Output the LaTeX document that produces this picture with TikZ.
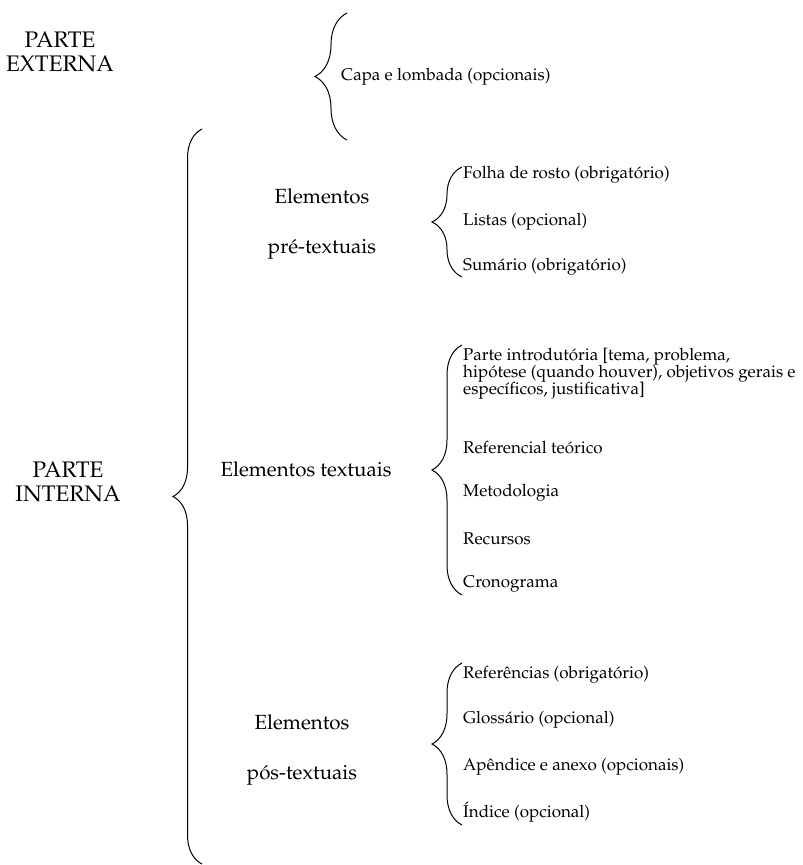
\documentclass[tikz,border=0pt]{standalone}
\usepackage[T1]{fontenc}
\usepackage{mathpazo}
\usepackage{tikz}
\usetikzlibrary{decorations.pathreplacing}

\begin{document}
\begin{tikzpicture}[x=1pt, y=-1pt,
	chave/.style={decorate, decoration={brace, amplitude=#1}, line width=1pt},
	chave/.default=30,
	item/.style={anchor=west, inner sep=0pt, align=left, font={\fontsize{17}{17}\selectfont\lineskiplimit -20pt\relax}},
	parte/.style={inner sep=0pt, align=center, font=\fontsize{22.5}{23.5}\selectfont},
	grupo/.style={inner sep=0pt, align=center, font=\fontsize{20.5}{50}\selectfont}]
	\useasboundingbox (0, 0) rectangle (803, 865);

	\node[parte] (externa) at (60, 52) {PARTE\\EXTERNA};
	\node[parte] (interna) at (68, 482) {PARTE\\INTERNA};

	\draw[chave=32] (347, 140) -- (347, 13);
	\node[item] (capa) at (341, 77) {Capa e lombada (opcionais)};

	\draw[chave=29] (202, 864) -- (202, 129);

	\node[grupo] (pre) at (322, 224) {Elementos\\pré-textuais};
	\node[grupo] (textuais) at (306, 469) {Elementos textuais};
	\node[grupo] (pos) at (302, 750) {Elementos\\pós-textuais};

	\draw[chave] (462, 277) -- (462, 167);
	\node[item] (folha) at (463, 175) {Folha de rosto (obrigatório)};
	\node[item] (listas) at (463, 222) {Listas (opcional)};
	\node[item] (sumario) at (463, 267) {Sumário (obrigatório)};

	\draw[chave] (462, 595) -- (462, 345);
	\node[item] (intro) at (463, 374) {Parte introdutória [tema, problema,\\hipótese (quando houver), objetivos gerais e\\específicos, justificativa]};
	\node[item] (referencial) at (463, 448) {Referencial teórico};
	\node[item] (metodologia) at (463, 493) {Metodologia};
	\node[item] (recursos) at (463, 539) {Recursos};
	\node[item] (cronograma) at (463, 584) {Cronograma};

	\draw[chave] (462, 825) -- (462, 663);
	\node[item] (referencias) at (463, 675) {Referências (obrigatório)};
	\node[item] (glossario) at (463, 720) {Glossário (opcional)};
	\node[item] (apendice) at (463, 767) {Apêndice e anexo (opcionais)};
	\node[item] (indice) at (463, 812) {Índice (opcional)};
\end{tikzpicture}
\end{document}
